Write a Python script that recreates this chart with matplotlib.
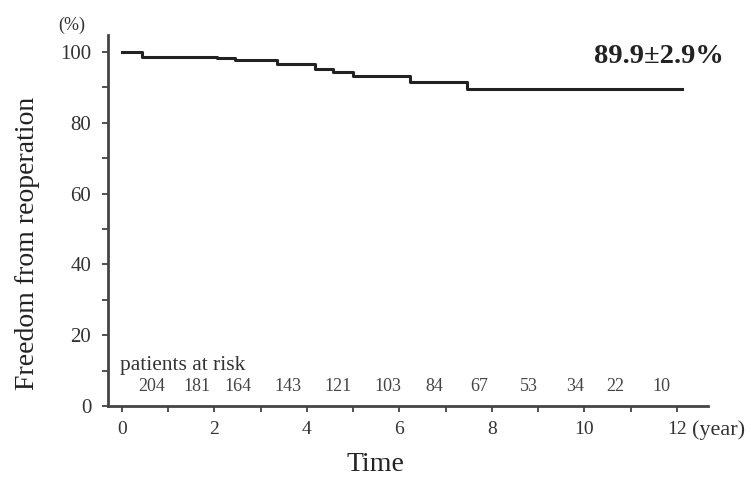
import matplotlib
matplotlib.use("Agg")
import matplotlib.pyplot as plt
from matplotlib.ticker import MultipleLocator

plt.rcParams['font.family'] = ['Liberation Serif', 'DejaVu Serif']

# Kaplan-Meier step curve (time in years, freedom from reoperation %)
km_time = [0.0, 0.43, 2.05, 2.45, 3.35, 4.17, 4.56, 5.0, 6.23, 7.46, 12.1]
km_surv = [100.0, 98.7, 98.2, 97.7, 96.5, 95.1, 94.4, 93.3, 91.4, 89.6, 89.6]

# patients at risk
risk_x = [0.65, 1.63, 2.52, 3.58, 4.67, 5.76, 6.76, 7.72, 8.8, 9.8, 10.67, 11.67]
risk_n = [204, 181, 164, 143, 121, 103, 84, 67, 53, 34, 22, 10]

final_label = "89.9\u00b12.9%"
x_ticks = [0, 2, 4, 6, 8, 10, 12]
y_ticks = [0, 20, 40, 60, 80, 100]

fig = plt.figure(figsize=(7.51, 4.83), dpi=100)
ax = fig.add_axes([108/751, 1-406/483, (708-108)/751, (406-35)/483])

ax.step(km_time, km_surv, where='post', color='#222222', lw=2.2)

ax.set_xlim(-0.30, 12.67)
ax.set_ylim(0, 104.8)
ax.set_xticks(x_ticks)
ax.set_yticks(y_ticks)
ax.xaxis.set_minor_locator(MultipleLocator(1))
ax.yaxis.set_minor_locator(MultipleLocator(10))
ax.tick_params(which='both', direction='out', length=4, width=1.2, colors='#333333',
               labelsize=14, labelcolor='#333333')
ax.tick_params(axis='y', labelsize=15, pad=8)
ax.tick_params(axis='x', pad=7)
for s in ['top', 'right']:
    ax.spines[s].set_visible(False)
for s in ['left', 'bottom']:
    ax.spines[s].set_linewidth(2.0)
    ax.spines[s].set_color('#444444')

ax.set_xlabel("Time", fontsize=20, color='#222222')
ax.xaxis.set_label_coords((375-108)/600, -0.125)
ax.set_ylabel("Freedom from reoperation", fontsize=20, color='#222222')
ax.yaxis.set_label_coords((40-108)/600, 0.437)

fig.text(72/751, 1-25/483, "(%)", fontsize=13, ha='center', va='center', color='#333333')
ax.text(12.33, -0.065, "(year)", transform=ax.get_xaxis_transform(), fontsize=16,
        ha='left', va='center', color='#333333')

ax.text(13.0, 98.6, final_label, fontsize=20.5, fontweight='bold', ha='right', va='center',
        color='#222222', clip_on=False)

ax.text(-0.05, 11.5, "patients at risk", fontsize=15.5, ha='left', va='center', color='#333333')
for xv, n in zip(risk_x, risk_n):
    ax.text(xv, 5.5, str(n), fontsize=13, ha='center', va='center', color='#444444')

fig.savefig("out.png", dpi=100)
